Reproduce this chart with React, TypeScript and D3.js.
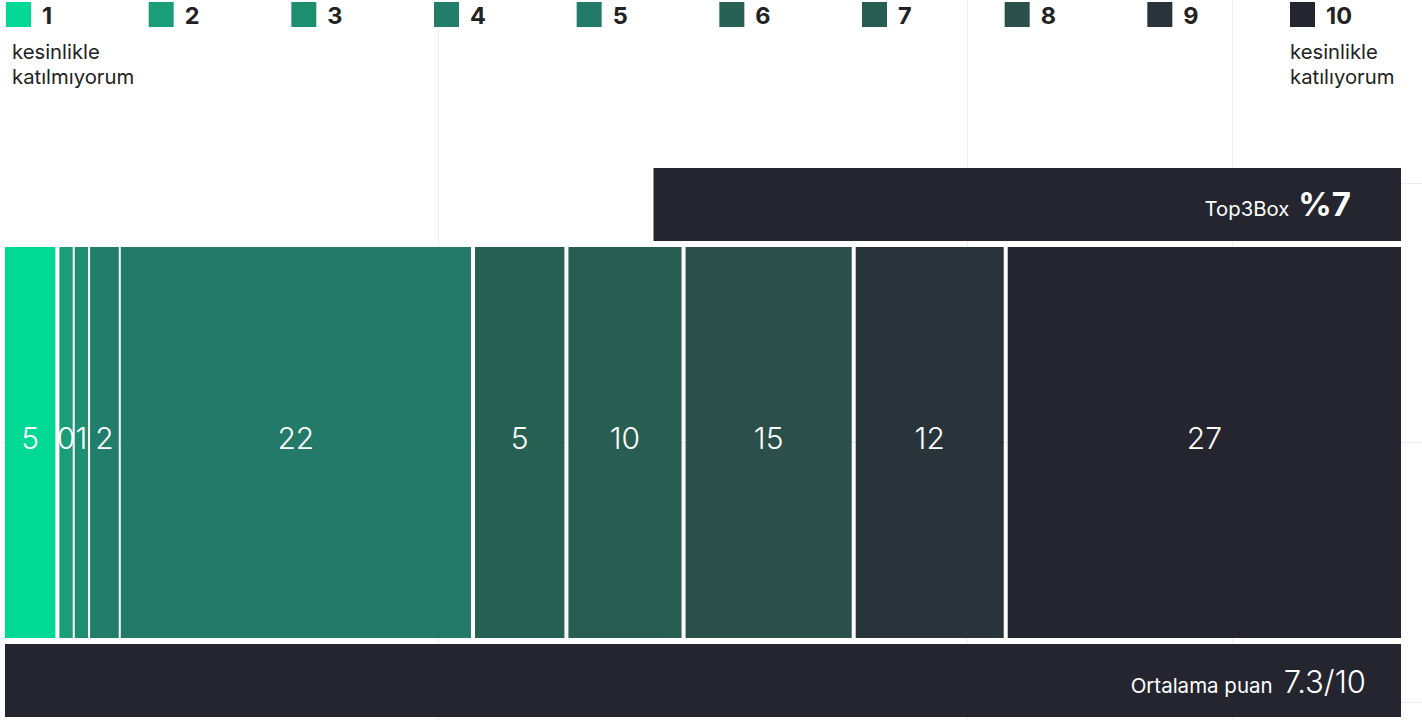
import React from "react";
import * as d3 from "d3";

// ---- data ----
const categories = ["1", "2", "3", "4", "5", "6", "7", "8", "9", "10"];
const values = [5, 0, 1, 2, 22, 5, 10, 15, 12, 27];
// relative width of each segment as drawn in the picture (percent of bar)
const shares = [3.9, 1.1, 1.1, 2.2, 25.4, 6.7, 8.4, 12.2, 10.9, 28.2];
const leftNote = ["kesinlikle", "katılmıyorum"];
const rightNote = ["kesinlikle", "katılıyorum"];
const top3Label = "Top3Box";
const top3Value = "%7";
const top3StartShare = 46.5;
const meanLabel = "Ortalama puan";
const meanValue = "7.3/10";

// ---- styles ----
const colors = [
  "#00d994", "#1a9e7a", "#1e8e70", "#227e6a", "#247a68",
  "#276153", "#285e52", "#2b4f4a", "#28343a", "#25252f",
];
const dark = "#25252f";
const FONT = "Inter, 'Noto Sans', sans-serif";

export default function App() {
  const W = 1422, H = 720;
  const x0 = 5, x1 = 1401;
  const total = d3.sum(shares);
  const x = d3.scaleLinear().domain([0, total]).range([x0, x1]);
  const starts = d3.cumsum([0, ...shares.slice(0, -1)]);

  const legendX = d3.scalePoint<string>().domain(categories).range([6, 1290]);

  const mainTop = 247, mainBot = 638;
  const topTop = 168, topBot = 241;
  const botTop = 644, botBot = 717;

  const gridV = [438, 967, 1232];

  return (
    <>
      <style>{`body{margin:0}`}</style>
      <svg width={W} height={H} style={{ display: "block", fontFamily: FONT }}>
        <rect width={W} height={H} fill="#fff" />
        {gridV.map((g) => (
          <line key={"v" + g} x1={g + 0.5} x2={g + 0.5} y1={0} y2={H} stroke="#eeeeee" />
        ))}
        <line x1={0} x2={W} y1={442.5} y2={442.5} stroke="#eeeeee" />
        <line x1={1232} x2={W} y1={183.5} y2={183.5} stroke="#eeeeee" />
        <line x1={1232} x2={W} y1={702.5} y2={702.5} stroke="#eeeeee" />

        {/* legend */}
        {categories.map((c, i) => {
          const lx = legendX(c)!;
          return (
            <g key={c}>
              <rect x={lx} y={2} width={25} height={25} fill={colors[i]} />
              <text x={lx + 36} y={24} fontSize={23.5} fontWeight={700} fill="#222">
                {c}
              </text>
            </g>
          );
        })}
        {leftNote.map((t, i) => (
          <text key={"l" + i} x={12} y={59 + i * 25} fontSize={20.3} fill="#222">
            {t}
          </text>
        ))}
        {rightNote.map((t, i) => (
          <text key={"r" + i} x={1290} y={59 + i * 25} fontSize={20.3} fill="#222">
            {t}
          </text>
        ))}

        {/* Top3Box bar */}
        <rect x={x(top3StartShare)} y={topTop} width={x1 - x(top3StartShare)} height={topBot - topTop} fill={dark} />
        <text x={x1 - 50} y={216} textAnchor="end" fill="#fff">
          <tspan fontSize={20.3}>{top3Label}</tspan>
          <tspan dx={9} fontSize={33} fontWeight={700}>{top3Value}</tspan>
        </text>

        {/* main segments */}
        {values.map((v, i) => {
          const sx = x(starts[i]);
          const span = x(starts[i] + shares[i]) - sx;
          const gap = i === values.length - 1 ? 0 : span < 40 ? 2 : 4;
          const ex = sx + span - gap;
          return (
            <g key={i}>
              <rect x={sx} y={mainTop} width={ex - sx} height={mainBot - mainTop} fill={colors[i]} />
              <text
                x={(sx + ex) / 2}
                y={449}
                textAnchor="middle"
                fontSize={30}
                fontWeight={300}
                fill="#fff"
              >
                {v}
              </text>
            </g>
          );
        })}

        {/* mean bar */}
        <rect x={x0} y={botTop} width={x1 - x0} height={botBot - botTop} fill={dark} />
        <text x={x1 - 35} y={693} textAnchor="end" fill="#fff">
          <tspan fontSize={20.5}>{meanLabel}</tspan>
          <tspan dx={11} fontSize={31} fontWeight={300}>{meanValue}</tspan>
        </text>
      </svg>
    </>
  );
}
